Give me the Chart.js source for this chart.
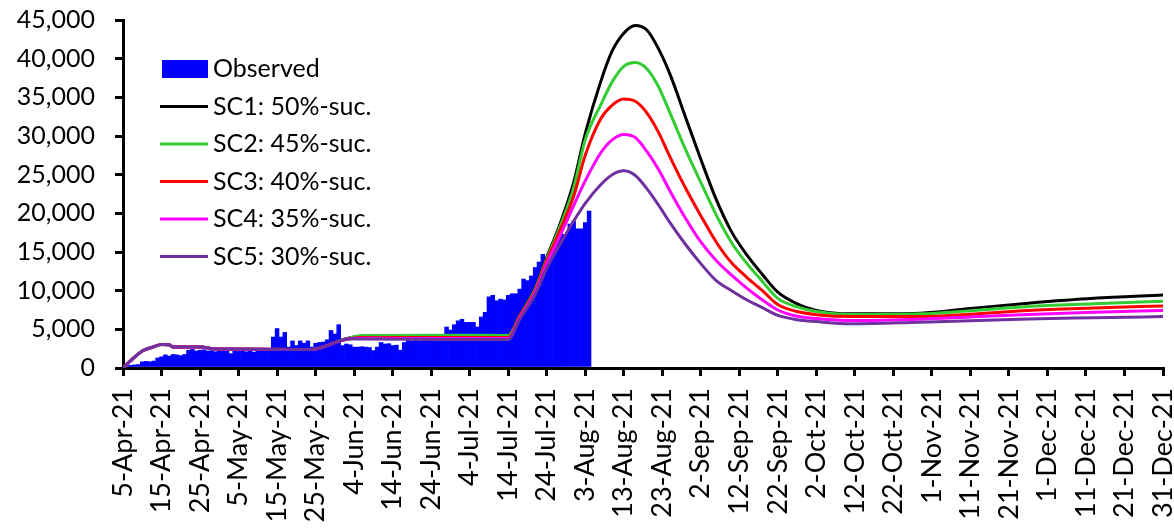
<!DOCTYPE html>
<html>
<head>
<meta charset="utf-8">
<script src="https://cdn.jsdelivr.net/npm/chart.js@4.4.1/dist/chart.umd.min.js"></script>
<style>
html,body{margin:0;padding:0;background:#fff;}
canvas{display:block;}
</style>
</head>
<body>
<canvas id="c" width="1174" height="530"></canvas>
<script>
// x tick labels (every 10 days, day index 0 = 5-Apr-21)
const tickLabels = ['5-Apr-21','15-Apr-21','25-Apr-21','5-May-21','15-May-21','25-May-21','4-Jun-21','14-Jun-21','24-Jun-21','4-Jul-21','14-Jul-21','24-Jul-21','3-Aug-21','13-Aug-21','23-Aug-21','2-Sep-21','12-Sep-21','22-Sep-21','2-Oct-21','12-Oct-21','22-Oct-21','1-Nov-21','11-Nov-21','21-Nov-21','1-Dec-21','11-Dec-21','21-Dec-21','31-Dec-21'];

// observed daily values, day 0 (5-Apr-21) .. day 121
const observed = [100,250,350,400,450,800,850,800,900,1300,
1450,1700,1550,1750,1700,1600,1750,2300,2400,2200,
2300,2350,2200,2250,2100,2200,2150,2250,1850,2200,
2150,2250,2100,2200,2050,2200,2250,2150,2300,4000,
5100,4000,4600,2700,3500,2900,3500,3200,3500,2700,
3200,3300,3350,3650,4850,4400,5600,2900,3100,3000,
2700,2700,2750,2700,2650,2250,2700,3300,3100,3150,
2900,2950,2300,3300,3550,3500,3600,3500,3550,3600,
3500,3550,3600,3550,5300,4900,5600,6100,6300,5900,
5900,5900,5300,6600,7200,9200,9400,8700,8900,8800,
9400,9600,9600,10200,11500,11300,11900,13000,13700,14700,
14300,15200,16500,16500,17300,17300,18600,19000,18000,18000,
18800,20300];

// scenario curves read at these day indices
const lineDays = [0,3,5,8,10,12,13,20,24,49,53,56,59,62,85,100,103,107,110,113,117,120,124,127,130,133,136,139,142,146,150,154,158,162,166,170,175,180,189,207,220,235,252,270];
const sc1 = [0,1400,2200,2750,3050,3000,2700,2750,2450,2400,2900,3500,3900,4150,4200,4150,6800,10300,14300,18000,24000,30300,37000,41000,43300,44300,43700,41300,38000,32500,27000,21800,17600,14600,12100,9800,8300,7450,7000,7090,7700,8380,9020,9450];
const sc2 = [0,1400,2200,2750,3050,3000,2700,2750,2450,2400,2900,3500,3900,4200,4250,4200,6750,10200,14100,17700,23300,29500,34000,37000,39000,39500,38700,36400,33000,28300,24000,19800,16200,13500,11200,9000,7900,7300,6910,7000,7400,7950,8300,8640];
const sc3 = [0,1400,2200,2750,3050,3000,2700,2700,2450,2400,2900,3450,3800,3950,3950,3950,6650,10000,13900,17300,22200,27500,32200,34000,34800,34500,33000,30500,27300,23300,19700,16300,13600,11700,10000,8200,7300,6900,6650,6650,6950,7430,7750,8030];
const sc4 = [0,1400,2200,2750,3050,3000,2700,2700,2450,2400,2900,3450,3800,3850,3800,3800,6500,9800,13500,16600,21000,24200,27800,29500,30200,29800,28000,25700,22900,19400,16300,13900,12000,10300,8800,7500,6700,6400,6140,6310,6600,6910,7200,7430];
const sc5 = [0,1400,2200,2750,3050,3000,2700,2700,2450,2400,2900,3450,3750,3750,3700,3700,6300,9500,12900,15600,19000,21300,23700,25000,25500,24900,23200,21100,18800,16000,13500,11300,10000,8800,7800,6800,6250,6000,5710,5920,6100,6350,6500,6650];

const seriesNames = ['Observed','SC1: 50%-suc.','SC2: 45%-suc.','SC3: 40%-suc.','SC4: 35%-suc.','SC5: 30%-suc.'];
const seriesColors = ['#0000ff','#000000','#33cc33','#ff0000','#ff00ff','#7030a0'];
const scenarios = [sc1, sc2, sc3, sc4, sc5];

const FONT = 'Lato, "Open Sans", sans-serif';

const legendPlugin = {
  id: 'insideLegend',
  afterDraw(chart) {
    const ctx = chart.ctx;
    ctx.save();
    ctx.font = '25px ' + FONT;
    ctx.textBaseline = 'middle';
    ctx.textAlign = 'left';
    chart.data.datasets.forEach((ds, i) => {
      const y = 69 + i * 37.5;
      if (ds.type === 'bar') {
        ctx.fillStyle = ds.backgroundColor;
        ctx.fillRect(162, y - 9, 46, 18);
      } else {
        ctx.strokeStyle = ds.borderColor;
        ctx.lineWidth = 3;
        ctx.beginPath();
        ctx.moveTo(160, y);
        ctx.lineTo(208, y);
        ctx.stroke();
      }
      ctx.fillStyle = '#000';
      ctx.fillText(ds.label, 213, y);
    });
    ctx.restore();
  }
};

const datasets = [{
  type: 'bar',
  label: seriesNames[0],
  data: observed.map((v, i) => ({x: i, y: v})),
  backgroundColor: seriesColors[0],
  borderWidth: 0,
  barPercentage: 1,
  categoryPercentage: 1,
  order: 6
}];
scenarios.forEach((s, k) => {
  datasets.push({
    type: 'line',
    label: seriesNames[k + 1],
    data: lineDays.map((d, i) => ({x: d, y: s[i]})),
    borderColor: seriesColors[k + 1],
    backgroundColor: seriesColors[k + 1],
    borderWidth: 3,
    pointRadius: 0,
    cubicInterpolationMode: 'monotone',
    fill: false,
    order: 5 - k
  });
});

function build() {
  new Chart(document.getElementById('c'), {
    type: 'line',
    data: { datasets },
    plugins: [legendPlugin],
    options: {
      responsive: false,
      animation: false,
      layout: { padding: { top: 20, right: 11, left: 0, bottom: 0 } },
      plugins: { legend: { display: false }, tooltip: { enabled: false } },
      scales: {
        x: {
          type: 'linear',
          min: 0, max: 270,
          offset: false,
          afterFit: (s) => { s.height = 162; s.paddingLeft = 0; s.paddingRight = 0; },
          grid: { offset: false, drawOnChartArea: false, drawTicks: true, tickLength: 8, color: '#000', lineWidth: 3 },
          border: { display: true, color: '#000', width: 3 },
          ticks: {
            stepSize: 10,
            maxTicksLimit: 100,
            autoSkip: false,
            minRotation: 90, maxRotation: 90,
            padding: 12,
            color: '#000',
            font: { family: FONT, size: 27 },
            callback: (v) => tickLabels[Math.round(v / 10)]
          }
        },
        y: {
          min: 0, max: 45000,
          afterFit: (s) => { s.width = 123; s.paddingTop = 0; s.paddingBottom = 0; },
          grid: { drawOnChartArea: false, drawTicks: true, tickLength: 8, color: '#000', lineWidth: 3 },
          border: { display: true, color: '#000', width: 3 },
          ticks: {
            stepSize: 5000,
            padding: 20,
            color: '#000',
            font: { family: FONT, size: 25 },
            callback: (v) => v.toLocaleString('en-US')
          }
        }
      }
    }
  });
}

if (document.fonts && document.fonts.load) {
  Promise.all([document.fonts.load('25px Lato'), document.fonts.load('27px Lato')]).then(build, build);
} else { build(); }
</script>
</body>
</html>
